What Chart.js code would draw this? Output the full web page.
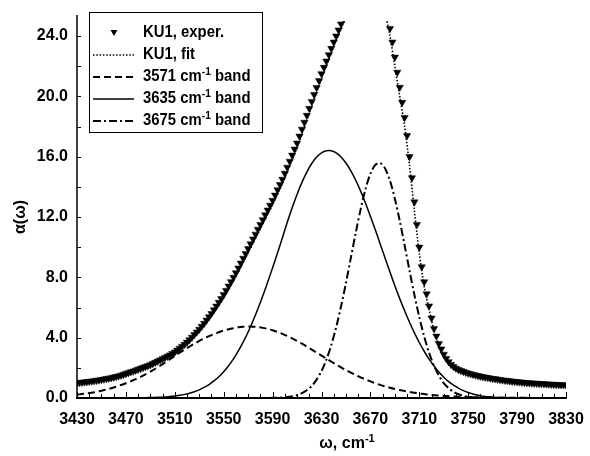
<!DOCTYPE html>
<html><head><meta charset="utf-8">
<script src="https://cdn.jsdelivr.net/npm/chart.js@4.4.1/dist/chart.umd.min.js"></script>
<style>html,body{margin:0;padding:0;background:#fff;}canvas{display:block}</style>
</head><body>
<canvas id="c" width="590" height="456"></canvas>
<script>
// ---- data ----
const expStart = 3430, expStep = 2;
const expValues = [
1.00,1.02,1.04,1.06,1.08, 1.10,1.12,1.14,1.17,1.19, 1.22,1.25,1.28,1.31,1.34, 1.38,1.42,1.46,1.51,1.56,
1.62,1.67,1.73,1.78,1.84, 1.90,1.96,2.02,2.08,2.14, 2.20,2.28,2.36,2.44,2.52, 2.60,2.68,2.76,2.85,2.95,
3.05,3.17,3.30,3.43,3.56, 3.70,3.86,4.03,4.20,4.37, 4.55,4.75,4.95,5.16,5.38, 5.60,5.84,6.09,6.34,6.59,
6.85,7.13,7.42,7.71,8.00, 8.30,8.62,8.94,9.26,9.58, 9.90,10.22,10.54,10.86,11.18, 11.50,11.82,12.14,12.46,12.78,
13.10,13.45,13.80,14.15,14.50, 14.90,15.30,15.70,16.10,16.50, 16.90,17.36,17.82,18.28,18.74, 19.20,19.66,20.12,20.58,21.04,
21.50,21.92,22.34,22.76,23.18, 23.60,24.00,24.40,24.80,25.20, 25.60,26.00,26.40,26.80,27.10, 27.40,27.70,27.90,28.10,28.20,
28.20,28.10,27.90,27.60,27.20, 26.60,26.00,25.30,24.50,23.60, 22.60,21.60,20.60,19.60,18.60, 17.40,16.00,14.60,13.00,11.50,
10.00,8.70,7.70,6.90,6.10, 5.30,4.60,4.10,3.60,3.25, 2.90,2.62,2.40,2.22,2.08, 1.97,1.89,1.82,1.76,1.70,
1.65,1.60,1.56,1.52,1.48, 1.44,1.41,1.38,1.35,1.32, 1.29,1.27,1.24,1.22,1.19, 1.17,1.15,1.13,1.11,1.09,
1.08,1.06,1.04,1.03,1.01, 1.00,0.99,0.98,0.97,0.96, 0.95,0.94,0.93,0.92,0.91, 0.90,0.89,0.88,0.88,0.87,
0.86];

const curveStart = 3430, curveStep = 4;
const fitValues = [
0.98,1.02,1.06,1.10,1.15,1.20,1.26,1.32,1.40,1.49,
1.59,1.70,1.80,1.92,2.04,2.15,2.30,2.46,2.62,2.79,
2.98,3.22,3.48,3.78,4.10,4.45,4.84,5.25,5.70,6.18,
6.68,7.22,7.78,8.38,9.00,9.65,10.28,10.92,11.56,12.20,
12.84,13.52,14.22,15.00,15.80,16.62,17.52,18.44,19.36,20.28,
21.20,22.05,22.90,23.72,24.50,25.30,26.10,26.80,27.40,27.80,
27.90,27.60,26.90,25.60,24.00,22.00,20.00,18.00,15.40,12.40,
9.60,7.40,5.90,4.50,3.50,2.80,2.33,2.03,1.85,1.72,
1.62,1.53,1.45,1.38,1.32,1.27,1.22,1.18,1.14,1.10,
1.07,1.04,1.01,0.99,0.97,0.95,0.93,0.91,0.89,0.87,
0.86];

const band3571 = [
0.22,0.26,0.30,0.35,0.41,0.48,0.56,0.65,0.75,0.86,
0.98,1.11,1.25,1.40,1.57,1.75,1.94,2.14,2.35,2.57,
2.79,3.00,3.21,3.41,3.60,3.78,3.95,4.10,4.24,4.36,
4.47,4.56,4.63,4.69,4.72,4.74,4.73,4.70,4.65,4.58,
4.49,4.38,4.25,4.11,3.95,3.78,3.60,3.41,3.21,3.01,
2.81,2.61,2.41,2.22,2.03,1.85,1.68,1.52,1.37,1.23,
1.10,0.98,0.87,0.77,0.68,0.60,0.53,0.46,0.40,0.35,
0.30,0.26,0.22,0.19,0.16,0.14,0.12,0.10,0.08,0.07,
0.06,0.05,0.04,0.03,0.03,0.02,0.02,0.02,0.01,0.01,
0.01,0.01,0.01,0,0,0,0,0,0,0,
0];

const band3635 = [
0,0,0,0,0,0,0,0,0,0,
0,0,0.01,0.01,0.02,0.03,0.04,0.05,0.07,0.10,
0.13,0.18,0.24,0.32,0.42,0.54,0.70,0.89,1.13,1.41,
1.74,2.14,2.59,3.12,3.72,4.38,5.12,5.92,6.78,7.69,
8.64,9.61,10.62,11.65,12.62,13.50,14.30,14.98,15.55,15.98,
16.26,16.40,16.40,16.26,15.98,15.58,15.06,14.44,13.72,12.92,
12.05,11.15,10.22,9.28,8.35,7.45,6.59,5.78,5.02,4.32,
3.68,3.10,2.58,2.12,1.72,1.38,1.09,0.85,0.65,0.49,
0.36,0.26,0.18,0.12,0.08,0.06,0.04,0.03,0.02,0.01,
0.01,0,0,0,0,0,0,0,0,0,
0];

const band3675 = [
0,0,0,0,0,0,0,0,0,0,
0,0,0,0,0,0,0,0,0,0,
0,0,0,0,0,0,0,0,0,0,
0,0,0,0,0,0,0,0,0,0,
0.01,0.02,0.03,0.06,0.11,0.19,0.32,0.51,0.80,1.22,
1.79,2.55,3.51,4.69,6.08,7.63,9.29,10.95,12.51,13.85,
14.87,15.46,15.58,15.22,14.41,13.22,11.75,10.12,8.45,6.84,
5.36,4.08,3.00,2.14,1.48,0.99,0.65,0.41,0.25,0.15,
0.08,0.05,0.03,0.01,0,0,0,0,0,0,
0,0,0,0,0,0,0,0,0,0,
0];

const xTicks = [3430,3470,3510,3550,3590,3630,3670,3710,3750,3790,3830];
const yTicks = [0,4,8,12,16,20,24];
const xMinorStep = 10, yMinorStep = 2;
const seriesLabels = ['KU1, exper.', 'KU1, fit', '3571 cm⁻¹ band', '3635 cm⁻¹ band', '3675 cm⁻¹ band'];
const xTitle = 'ω, cm⁻¹';
const yTitle = 'α(ω)';

// ---- build ----
const FONT = '"Liberation Sans", Arial, Helvetica, sans-serif';
const FS = 16;
const toPts = (start, step, arr) => arr.map((v, i) => ({x: start + i * step, y: v}));

const styles = [
  {dash: [], width: 0},
  {dash: [1.5, 1.8], width: 1.6},
  {dash: [7, 4], width: 2},
  {dash: [], width: 1.5},
  {dash: [8, 3, 2, 3], width: 2}
];

const datasets = [
  {label: seriesLabels[0], data: toPts(expStart, expStep, expValues), showLine: false,
   pointStyle: 'triangle', rotation: 180, pointRadius: 4.2, pointBackgroundColor: '#000',
   pointBorderColor: '#000', pointBorderWidth: 0.5},
  {label: seriesLabels[1], data: toPts(curveStart, curveStep, fitValues)},
  {label: seriesLabels[2], data: toPts(curveStart, curveStep, band3571)},
  {label: seriesLabels[3], data: toPts(curveStart, curveStep, band3635)},
  {label: seriesLabels[4], data: toPts(curveStart, curveStep, band3675)}
];
for (let i = 1; i < 5; i++) {
  Object.assign(datasets[i], {showLine: true, pointRadius: 0, borderColor: '#000',
    borderWidth: styles[i].width, borderDash: styles[i].dash, tension: 0.3, fill: false});
}

// text with superscript "-1", condensed horizontally by factor sx
function drawRich(ctx, text, x, y, align, sx) {
  const parts = text.split('⁻¹');
  const big = 'bold ' + FS + 'px ' + FONT, small = 'bold 11px ' + FONT;
  ctx.font = big; const w0 = ctx.measureText(parts[0]).width;
  let w1 = 0, w2 = 0;
  if (parts.length > 1) {
    ctx.font = small; w1 = ctx.measureText('-1').width;
    ctx.font = big; w2 = ctx.measureText(parts[1]).width;
  }
  const total = (w0 + w1 + w2) * sx;
  const startX = align === 'center' ? x - total / 2 : x;
  ctx.save();
  ctx.translate(startX, y); ctx.scale(sx, 1);
  ctx.textAlign = 'left'; ctx.textBaseline = 'middle'; ctx.fillStyle = '#000';
  ctx.font = big; ctx.fillText(parts[0], 0, 0);
  if (parts.length > 1) {
    ctx.font = small; ctx.fillText('-1', w0, -5);
    ctx.font = big; ctx.fillText(parts[1], w0 + w1, 0);
  }
  ctx.restore();
}

const refPlugin = {
  id: 'refPlugin',
  afterDatasetsDraw(chart) {
    const ctx = chart.ctx, xs = chart.scales.x, ys = chart.scales.y, a = chart.chartArea;
    ctx.save();
    ctx.strokeStyle = '#000'; ctx.setLineDash([]);
    ctx.lineWidth = 2;
    ctx.beginPath(); ctx.moveTo(a.left - 1, a.bottom); ctx.lineTo(a.right + 1, a.bottom); ctx.stroke();
    ctx.lineWidth = 1.5;
    ctx.beginPath(); ctx.moveTo(a.left, a.top - 6); ctx.lineTo(a.left, a.bottom); ctx.stroke();
    ctx.lineWidth = 1;
    for (let v = xs.min; v <= xs.max + 0.01; v += xMinorStep) {
      const px = Math.round(xs.getPixelForValue(v)) + 0.5;
      const major = xTicks.includes(v);
      ctx.beginPath(); ctx.moveTo(px, a.bottom); ctx.lineTo(px, a.bottom - (major ? 6 : 4)); ctx.stroke();
    }
    for (let v = 0; v <= yTicks[yTicks.length - 1] + 0.01; v += yMinorStep) {
      const py = Math.round(ys.getPixelForValue(v)) + 0.5;
      ctx.beginPath(); ctx.moveTo(a.left, py); ctx.lineTo(a.left + 4, py); ctx.stroke();
    }
    drawRich(ctx, xTitle, 347, 444, 'center', 1);
    ctx.save();
    ctx.translate(21, 217); ctx.rotate(-Math.PI / 2);
    ctx.font = 'bold ' + FS + 'px ' + FONT; ctx.textAlign = 'center'; ctx.textBaseline = 'middle';
    ctx.fillStyle = '#000';
    ctx.fillText(yTitle, 0, 0);
    ctx.restore();
    const L = {x: 89.5, y: 12.5, w: 173, h: 120};
    ctx.fillStyle = '#fff'; ctx.fillRect(L.x, L.y, L.w, L.h);
    ctx.lineWidth = 1; ctx.strokeStyle = '#000'; ctx.strokeRect(L.x, L.y, L.w, L.h);
    chart.data.datasets.forEach((ds, i) => {
      const ry = 33 + i * 22;
      if (i === 0) {
        const cx = 114, cy = ry - 1, r = 4;
        ctx.fillStyle = '#000'; ctx.beginPath();
        ctx.moveTo(cx - r * 0.866, cy - r / 2); ctx.lineTo(cx + r * 0.866, cy - r / 2); ctx.lineTo(cx, cy + r);
        ctx.closePath(); ctx.fill();
      } else {
        ctx.lineWidth = ds.borderWidth; ctx.setLineDash(ds.borderDash || []);
        ctx.beginPath(); ctx.moveTo(93, ry); ctx.lineTo(134, ry); ctx.stroke();
        ctx.setLineDash([]);
      }
      drawRich(ctx, ds.label, 143, ry, 'left', 0.93);
    });
    ctx.restore();
  }
};

new Chart(document.getElementById('c'), {
  type: 'scatter',
  data: {datasets},
  options: {
    responsive: false, animation: false, devicePixelRatio: 1,
    layout: {padding: {top: 21, right: 24, left: 0, bottom: 0}},
    plugins: {legend: {display: false}, tooltip: {enabled: false}},
    scales: {
      x: {type: 'linear', min: 3430, max: 3830,
        afterBuildTicks: s => { s.ticks = xTicks.map(v => ({value: v})); },
        afterFit: s => { s.height = 58; s.paddingLeft = 0; s.paddingRight = 0; },
        grid: {display: false, drawTicks: false}, border: {display: false},
        ticks: {color: '#000', padding: 12, maxRotation: 0, autoSkip: false,
          font: {family: FONT, size: FS, weight: 'bold'}, callback: v => String(v)}},
      y: {type: 'linear', min: 0, max: 25,
        afterBuildTicks: s => { s.ticks = yTicks.map(v => ({value: v})); },
        afterFit: s => { s.width = 77; },
        grid: {display: false, drawTicks: false}, border: {display: false},
        ticks: {color: '#000', padding: 9, autoSkip: false,
          font: {family: FONT, size: FS, weight: 'bold'}, callback: v => Number(v).toFixed(1)}}
    }
  },
  plugins: [refPlugin]
});
</script>
</body></html>
